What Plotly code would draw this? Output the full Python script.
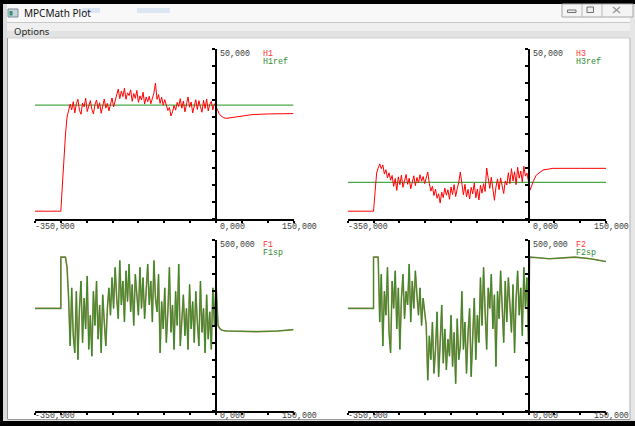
import numpy as np
import plotly.graph_objects as go

W, H = 635, 426

# ---------------- data ----------------
x_ticks = [-350, -300, -250, -200, -150, -100, -50, 0, 50, 100, 150]

# H1 / H1ref (top-left)
h1_pre_t = [-350, -300]
h1_pre = [2.3, 2.3]
h1_noise = [10, 18, 25, 30, 32.5,
            33.8, 32.1, 34.5, 31.2, 33.9, 35.2, 32.0, 30.8, 34.1, 33.0, 35.5, 31.6, 33.2, 34.8, 32.3,
            30.9, 33.7, 35.0, 32.4, 34.2, 31.1, 33.5, 35.3, 32.6, 34.0, 31.8, 33.4, 35.6, 33.0, 34.6,
            36.8, 38.2, 35.4, 37.6, 36.0, 38.5, 35.2, 37.1, 36.3, 38.0, 34.6, 36.9, 35.5, 37.8, 34.3,
            36.2, 35.0, 37.3, 33.8, 35.9, 34.5,
            36.1, 33.9, 35.7, 37.0, 40.0, 35.2, 36.6, 34.0, 35.8, 33.5, 35.1,
            33.6, 31.9, 32.8, 30.3, 31.5, 33.4, 32.0, 34.3, 33.1,
            35.4, 32.6, 34.7, 31.5, 33.8, 35.9, 32.9, 34.4, 31.2, 33.6, 35.1, 32.2, 34.8, 33.0, 31.4,
            34.9, 32.5, 35.3, 31.8, 33.7, 34.6, 32.1, 33.9, 33.2]
h1_post_t = [3, 6, 10, 15, 20, 30, 45, 70, 100, 150]
h1_post = [32.0, 31.0, 30.3, 29.8, 29.6, 29.8, 30.3, 30.7, 30.9, 31.0]
h1ref_t = [-350, 150]
h1ref = [33.5, 33.5]

# H3 / H3ref (top-right)
h3_pre_t = [-350, -300]
h3_pre = [2.3, 2.3]
h3_noise = [8.0, 13.5, 15.0, 16.2,
            14.8, 15.9, 13.2, 14.5, 12.1, 13.6, 11.4,
            12.8, 9.6, 11.9, 8.4, 12.4, 10.1, 12.9, 9.3, 11.6, 13.1, 10.2, 12.0, 8.9, 11.3, 12.7,
            9.8, 12.2, 10.6, 13.0, 11.1, 12.5, 10.4, 12.3,
            13.8,
            10.5, 8.2, 9.6, 6.9, 8.8, 6.1, 7.4, 4.7, 7.9, 6.3, 9.1, 7.0, 8.6, 5.8, 9.4, 7.2, 10.1,
            6.6, 8.9, 10.8, 13.8, 9.5, 7.1, 10.2, 6.5, 8.7,
            5.9, 9.3, 7.4, 10.6, 6.2, 8.8, 5.6, 9.9, 7.6, 10.4, 8.1,
            15.0,
            11.6, 9.0, 12.3, 8.1, 5.5, 9.4, 11.8, 8.6, 12.1, 9.7, 7.5, 11.2, 10.0,
            13.6, 10.4, 14.8, 11.2, 13.9, 10.1, 15.2, 12.0, 14.1, 10.9, 15.5, 12.6, 13.5, 11.0]
h3_post_t = [3, 9, 15, 28, 47, 100, 150]
h3_post = [8.5, 11.0, 12.9, 14.4, 14.9, 14.9, 14.9]
h3ref_t = [-350, 150]
h3ref = [10.8, 10.8]

# F1 / F1sp (bottom-left)
f1_pre_t = [-350, -300, -300]
f1_pre = [300, 300, 450]
f1_noise = [450, 450, 450, 420,
            330, 190, 360, 220, 170, 350, 150, 300, 380, 200, 330, 240, 395, 180, 280, 160,
            350, 250, 380, 210, 310, 170, 340, 260, 190, 300,
            360, 280, 390, 300, 420, 330, 270, 440, 310, 380, 260, 410, 320, 430, 290, 370,
            250, 400, 340, 280, 420, 300, 390, 270, 350, 430, 310, 380, 260, 440, 330, 290, 400,
            170, 320, 240, 360, 200, 290, 420, 230, 310, 180, 350, 250, 430, 190, 280,
            340, 220, 300, 180, 370, 240, 320, 200, 350, 260, 190, 380, 230, 300, 170, 340,
            210, 290, 180, 360, 250,
            380]
f1_post_t = [4, 8, 12, 20, 40, 80, 120, 150]
f1_post = [250, 240, 236, 234, 233, 232, 234, 238]
f1sp_noise = list(f1_noise)

# F2 / F2sp (bottom-right)
f2_pre_t = [-350, -300, -300]
f2_pre = [300, 300, 450]
f2_noise = [450, 450, 450,
            260, 400, 190, 350, 280, 420, 230, 170, 380, 300, 410, 240, 360, 180, 330, 400,
            270, 350, 310, 430, 260, 380, 300, 410, 340, 280, 360, 250, 330, 290,
            250, 90, 220, 150, 260, 110, 180, 290, 100, 200, 310, 140, 240, 120, 210, 160,
            280, 130, 230, 80, 270, 150, 190,
            350, 180, 260, 110, 230, 300, 100, 210, 330, 150, 280, 200,
            390, 250, 420, 290, 180, 360, 300, 400, 240, 340, 130,
            350, 270, 410, 300, 200, 380, 260, 390, 310, 230, 370, 170, 330, 410, 280, 360,
            220, 420, 300, 390, 190]
f2_post_t = [2, 20, 40, 60, 90, 120, 150]
f2_post = [450, 448, 445, 447, 450, 445, 437]
f2sp_noise = list(f2_noise)


def series(pre_t, pre_v, noise, post_t, post_v):
    nt = np.linspace(-297, 0, len(noise))
    return (list(pre_t) + list(nt) + list(post_t),
            list(pre_v) + list(noise) + list(post_v))


# ---------------- layout helpers ----------------
def px(x):
    return x / W


def py(y):
    return 1 - y / H


RED = "#ff0000"
MONO = "Liberation Mono, DejaVu Sans Mono, monospace"

panels = [
    dict(x0=35, x1=293.5, top=49, bot=219, ymax=50, lab="50,000", n1="H1", n2="H1ref", lsh=-7),
    dict(x0=347.7, x1=606, top=49, bot=219, ymax=50, lab="50,000", n1="H3", n2="H3ref", lsh=-7),
    dict(x0=35, x1=293.5, top=240, bot=411, ymax=500, lab="500,000", n1="F1", n2="F1sp", lsh=-4.5),
    dict(x0=347.7, x1=606, top=240, bot=411, ymax=500, lab="500,000", n1="F2", n2="F2sp", lsh=-4.5),
]

fig = go.Figure()

data_sets = [
    (series(h1_pre_t, h1_pre, h1_noise, h1_post_t, h1_post), (h1ref_t, h1ref), "ref"),
    (series(h3_pre_t, h3_pre, h3_noise, h3_post_t, h3_post), (h3ref_t, h3ref), "ref"),
    (series(f1_pre_t, f1_pre, f1_noise, f1_post_t, f1_post),
     series(f1_pre_t, f1_pre, f1sp_noise, f1_post_t, f1_post), "sp"),
    (series(f2_pre_t, f2_pre, f2_noise, f2_post_t, f2_post),
     series(f2_pre_t, f2_pre, f2sp_noise, f2_post_t, f2_post), "sp"),
]

layout = dict(width=W, height=H, margin=dict(l=0, r=0, t=0, b=0),
              paper_bgcolor="white", plot_bgcolor="white", showlegend=False)
annotations = []

for i, (p, (main, second, kind)) in enumerate(zip(panels, data_sets), start=1):
    sfx = "" if i == 1 else str(i)
    xa, ya = "x" + sfx, "y" + sfx
    dx0, dx1 = px(p["x0"]), px(p["x1"])
    pos0 = dx0 + (0 - (-350)) / 500 * (dx1 - dx0)
    layout["xaxis" + sfx] = dict(
        domain=[dx0, dx1], range=[-350, 150], anchor=ya,
        showline=True, linecolor="black", linewidth=2,
        ticks="outside", ticklen=2, tickwidth=1.5, tickcolor="black",
        tickvals=x_ticks, showticklabels=False, showgrid=False, zeroline=False)
    layout["yaxis" + sfx] = dict(
        domain=[py(p["bot"]), py(p["top"])], range=[0, p["ymax"]],
        anchor="free", position=pos0,
        showline=True, linecolor="black", linewidth=2,
        ticks="outside", ticklen=3, tickwidth=1.5, tickcolor="black",
        dtick=p["ymax"] / 10, tick0=0, showticklabels=False, showgrid=False, zeroline=False)

    if kind == "ref":
        fig.add_trace(go.Scatter(x=second[0], y=second[1], mode="lines", xaxis=xa, yaxis=ya,
                                 line=dict(color="#4aa84a", width=1.3), name=p["n2"]))
        fig.add_trace(go.Scatter(x=main[0], y=main[1], mode="lines", xaxis=xa, yaxis=ya,
                                 line=dict(color=RED, width=1), name=p["n1"]))
    else:
        fig.add_trace(go.Scatter(x=main[0], y=main[1], mode="lines", xaxis=xa, yaxis=ya,
                                 line=dict(color="rgba(150,115,55,0.85)", width=1.6), name=p["n1"]))
        fig.add_trace(go.Scatter(x=second[0], y=second[1], mode="lines", xaxis=xa, yaxis=ya,
                                 line=dict(color="rgba(35,140,35,0.9)", width=0.9), name=p["n2"]))

    f = dict(family=MONO, size=8.3, color="#3a3a3a")
    annotations.append(dict(x=0, y=p["ymax"], xref=xa, yref=ya, text=p["lab"], showarrow=False,
                            xanchor="left", yanchor="middle", xshift=2, yshift=-4, font=f))
    annotations.append(dict(x=88, y=p["ymax"], xref=xa, yref=ya, text=p["n1"], showarrow=False,
                            xanchor="left", yanchor="middle", yshift=-4,
                            font=dict(family=MONO, size=8.3, color="#ff3333")))
    annotations.append(dict(x=88, y=p["ymax"], xref=xa, yref=ya, text=p["n2"], showarrow=False,
                            xanchor="left", yanchor="middle", yshift=-12,
                            font=dict(family=MONO, size=8.3, color="#2e8b2e")))
    for xv, txt, sh in [(-350, "-350,000", -2), (0, "0,000", 2), (150, "150,000", -14)]:
        annotations.append(dict(x=xv, y=0, xref=xa, yref=ya, text=txt, showarrow=False,
                                xanchor="left", yanchor="middle", xshift=sh, yshift=p["lsh"],
                                font=f))


# window chrome (drawn below so that texts stay on top)
def rect(x0, y0, x1, y1, fill, line=None, lw=0):
    return dict(type="rect", xref="paper", yref="paper", x0=px(x0), x1=px(x1),
                y0=py(y1), y1=py(y0), fillcolor=fill, layer="below",
                line=dict(color=line or fill, width=lw))


def hline(x0, x1, y, color, w=1):
    return dict(type="line", xref="paper", yref="paper", x0=px(x0), x1=px(x1),
                y0=py(y), y1=py(y), line=dict(color=color, width=w), layer="below")


def vline(x, y0, y1, color, w=1):
    return dict(type="line", xref="paper", yref="paper", x0=px(x), x1=px(x),
                y0=py(y0), y1=py(y1), line=dict(color=color, width=w), layer="below")


shapes = [
    rect(3, 4, 633, 22, "#f8f8f8"),
    rect(3, 23, 633, 31, "#efefef"),
    rect(3, 31, 633, 38, "#e2e2e2"),
    hline(3, 633, 22.5, "#c9c9c9"),
    hline(8, 630, 38, "#d0d0d0"),
    rect(3, 4, 7, 421, "#dcdcdc"),
    rect(630, 4, 635, 421, "#e6e6e6"),
    rect(3, 419.5, 635, 421, "#dcdcdc"),
    vline(7.5, 38, 419.5, "#9a9a9a"),
    vline(630, 38, 419.5, "#b0b0b0"),
    hline(7.5, 630, 419.5, "#9a9a9a"),
    rect(0, 0, 635, 4, "#000000"),
    rect(0, 0, 3, 426, "#000000"),
    rect(0, 421, 635, 426, "#000000"),
    rect(82, 8, 100, 13, "rgba(170,195,235,0.35)"),
    rect(137, 8, 170, 13, "rgba(170,195,235,0.35)"),
    rect(8, 9, 18, 17, "#c8d4dc", "#7a8a94", 1),
    rect(9.5, 11, 12.5, 15.5, "#2f8f6f"),
    rect(562, 4, 633, 17, "#f4f4f4", "#a8a8a8", 1),
    vline(582, 4, 17, "#b8b8b8"),
    vline(602, 4, 17, "#b8b8b8"),
    rect(567.5, 10, 576, 12.5, "#f0f0f0", "#707070", 1),
    rect(587, 7, 593.5, 12.5, "#f0f0f0", "#707070", 1),
    dict(type="line", xref="paper", yref="paper", x0=px(613), x1=px(620), y0=py(7), y1=py(13),
         line=dict(color="#9a9a9a", width=1.5), layer="below"),
    dict(type="line", xref="paper", yref="paper", x0=px(613), x1=px(620), y0=py(13), y1=py(7),
         line=dict(color="#9a9a9a", width=1.5), layer="below"),
]

annotations.append(dict(x=px(22), y=py(13.5), xref="paper", yref="paper", text="MPCMath Plot",
                        showarrow=False, xanchor="left", yanchor="middle",
                        font=dict(family="Noto Sans, Open Sans, sans-serif", size=10, color="#111111")))
annotations.append(dict(x=px(12), y=py(31), xref="paper", yref="paper", text="Options",
                        showarrow=False, xanchor="left", yanchor="middle",
                        font=dict(family="Noto Sans, Open Sans, sans-serif", size=9.5, color="#222222")))

layout["shapes"] = shapes
layout["annotations"] = annotations
fig.update_layout(**layout)
fig.write_html("out.html", config={"displayModeBar": False},
               post_script="document.body.style.margin='0';document.body.style.overflow='hidden';")
